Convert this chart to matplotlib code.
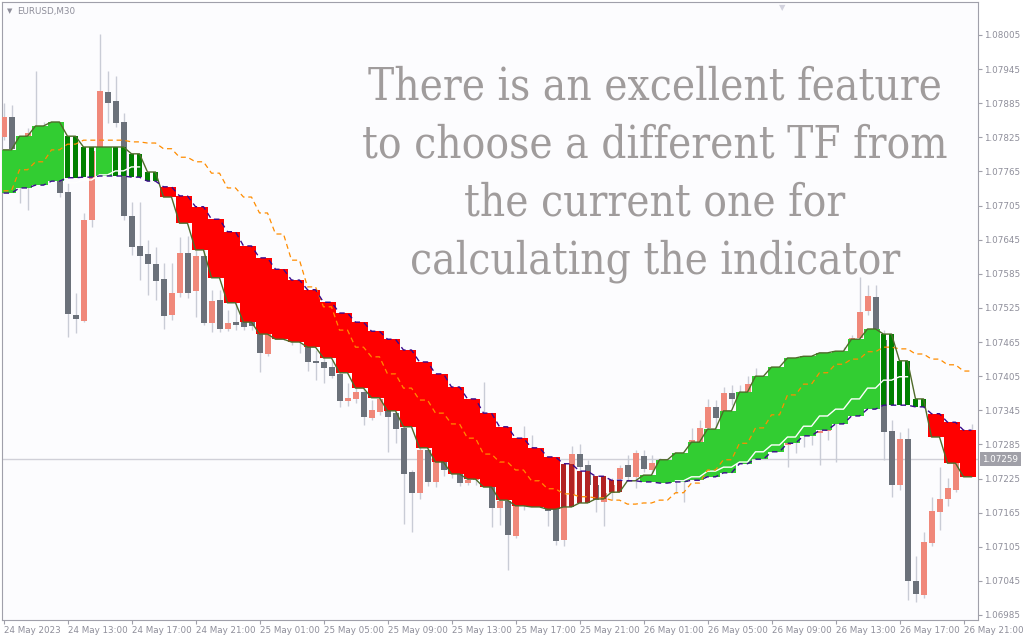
import matplotlib
matplotlib.use("Agg")
import matplotlib.pyplot as plt
import numpy as np

# EURUSD M30 candles, one value per bar
opens = [1.07826, 1.07861, 1.07803, 1.07764, 1.07833, 1.07820, 1.07827, 1.07803, 1.07729, 1.07513,
         1.07502, 1.07680, 1.07803, 1.07905, 1.07889, 1.07852, 1.07687, 1.07634, 1.07620, 1.07602,
         1.07576, 1.07513, 1.07551, 1.07622, 1.07555, 1.07616, 1.07499, 1.07539, 1.07488, 1.07500,
         1.07504, 1.07521, 1.07479, 1.07444, 1.07479, 1.07486, 1.07472, 1.07476, 1.07456, 1.07432,
         1.07430, 1.07421, 1.07409, 1.07361, 1.07365, 1.07377, 1.07331, 1.07342, 1.07344, 1.07340,
         1.07314, 1.07236, 1.07200, 1.07275, 1.07219, 1.07254, 1.07240, 1.07233, 1.07217, 1.07222,
         1.07231, 1.07210, 1.07173, 1.07185, 1.07124, 1.07177, 1.07231, 1.07222, 1.07205, 1.07173,
         1.07117, 1.07196, 1.07268, 1.07249, 1.07214, 1.07184, 1.07200, 1.07224, 1.07249, 1.07228,
         1.07265, 1.07240, 1.07252, 1.07240, 1.07247, 1.07236, 1.07249, 1.07289, 1.07314, 1.07351,
         1.07344, 1.07375, 1.07365, 1.07377, 1.07391, 1.07372, 1.07363, 1.07363, 1.07284, 1.07289,
         1.07328, 1.07346, 1.07305, 1.07309, 1.07337, 1.07354, 1.07398, 1.07472, 1.07520, 1.07544,
         1.07469, 1.07309, 1.07214, 1.07295, 1.07045, 1.07020, 1.07112, 1.07166, 1.07189, 1.07205,
         1.07252, 1.07266]
highs = [1.07885, 1.07882, 1.07820, 1.07841, 1.07942, 1.07852, 1.07848, 1.07810, 1.07745, 1.07551,
         1.07692, 1.07806, 1.08007, 1.07942, 1.07933, 1.07868, 1.07711, 1.07711, 1.07644, 1.07632,
         1.07604, 1.07604, 1.07650, 1.07652, 1.07627, 1.07627, 1.07557, 1.07557, 1.07521, 1.07539,
         1.07521, 1.07539, 1.07504, 1.07495, 1.07513, 1.07504, 1.07495, 1.07495, 1.07469, 1.07451,
         1.07442, 1.07433, 1.07416, 1.07393, 1.07386, 1.07389, 1.07363, 1.07372, 1.07354, 1.07346,
         1.07328, 1.07240, 1.07284, 1.07284, 1.07266, 1.07266, 1.07258, 1.07244, 1.07240, 1.07240,
         1.07395, 1.07222, 1.07205, 1.07196, 1.07187, 1.07317, 1.07302, 1.07240, 1.07222, 1.07187,
         1.07205, 1.07282, 1.07286, 1.07258, 1.07226, 1.07214, 1.07226, 1.07249, 1.07266, 1.07275,
         1.07275, 1.07266, 1.07261, 1.07254, 1.07258, 1.07261, 1.07314, 1.07328, 1.07365, 1.07363,
         1.07386, 1.07389, 1.07389, 1.07405, 1.07419, 1.07389, 1.07389, 1.07381, 1.07310, 1.07363,
         1.07398, 1.07372, 1.07346, 1.07363, 1.07381, 1.07456, 1.07477, 1.07579, 1.07565, 1.07565,
         1.07486, 1.07328, 1.07307, 1.07314, 1.07089, 1.07131, 1.07193, 1.07245, 1.07226, 1.07275,
         1.07293, 1.07321]
lows = [1.07820, 1.07785, 1.07710, 1.07697, 1.07803, 1.07782, 1.07775, 1.07720, 1.07474, 1.07481,
        1.07500, 1.07667, 1.07794, 1.07850, 1.07843, 1.07680, 1.07618, 1.07574, 1.07548, 1.07539,
        1.07488, 1.07504, 1.07544, 1.07543, 1.07509, 1.07495, 1.07483, 1.07483, 1.07484, 1.07486,
        1.07486, 1.07486, 1.07412, 1.07440, 1.07472, 1.07469, 1.07460, 1.07446, 1.07414, 1.07398,
        1.07393, 1.07402, 1.07351, 1.07353, 1.07358, 1.07319, 1.07328, 1.07337, 1.07272, 1.07287,
        1.07145, 1.07131, 1.07189, 1.07212, 1.07210, 1.07229, 1.07226, 1.07212, 1.07214, 1.07214,
        1.07219, 1.07140, 1.07143, 1.07064, 1.07120, 1.07170, 1.07214, 1.07196, 1.07142, 1.07108,
        1.07106, 1.07187, 1.07231, 1.07205, 1.07166, 1.07142, 1.07187, 1.07219, 1.07222, 1.07208,
        1.07236, 1.07235, 1.07231, 1.07226, 1.07200, 1.07184, 1.07240, 1.07282, 1.07310, 1.07314,
        1.07337, 1.07354, 1.07328, 1.07363, 1.07346, 1.07337, 1.07310, 1.07275, 1.07245, 1.07270,
        1.07280, 1.07284, 1.07249, 1.07293, 1.07254, 1.07337, 1.07381, 1.07460, 1.07513, 1.07460,
        1.07258, 1.07193, 1.07205, 1.07011, 1.07008, 1.07015, 1.07106, 1.07134, 1.07177, 1.07201,
        1.07240, 1.07249]
closes = [1.07861, 1.07805, 1.07771, 1.07833, 1.07820, 1.07827, 1.07803, 1.07727, 1.07514, 1.07506,
          1.07680, 1.07801, 1.07907, 1.07885, 1.07850, 1.07687, 1.07632, 1.07616, 1.07602, 1.07572,
          1.07511, 1.07551, 1.07622, 1.07551, 1.07616, 1.07499, 1.07537, 1.07488, 1.07499, 1.07495,
          1.07491, 1.07493, 1.07446, 1.07479, 1.07486, 1.07472, 1.07476, 1.07469, 1.07430, 1.07428,
          1.07419, 1.07405, 1.07361, 1.07367, 1.07377, 1.07333, 1.07346, 1.07365, 1.07333, 1.07312,
          1.07233, 1.07200, 1.07275, 1.07219, 1.07254, 1.07240, 1.07233, 1.07217, 1.07222, 1.07231,
          1.07240, 1.07173, 1.07185, 1.07126, 1.07177, 1.07231, 1.07222, 1.07205, 1.07168, 1.07115,
          1.07196, 1.07268, 1.07245, 1.07214, 1.07187, 1.07200, 1.07214, 1.07244, 1.07228, 1.07270,
          1.07242, 1.07252, 1.07240, 1.07247, 1.07236, 1.07249, 1.07293, 1.07314, 1.07351, 1.07331,
          1.07375, 1.07365, 1.07372, 1.07391, 1.07372, 1.07363, 1.07372, 1.07284, 1.07289, 1.07328,
          1.07346, 1.07319, 1.07309, 1.07337, 1.07354, 1.07398, 1.07472, 1.07518, 1.07546, 1.07469,
          1.07307, 1.07214, 1.07295, 1.07045, 1.07022, 1.07113, 1.07168, 1.07189, 1.07208, 1.07252,
          1.07266, 1.07258]

# indicator from the H1 timeframe: one value per H1 bar (= 2 M30 bars)
line_a = [1.07803, 1.07827, 1.07845, 1.07852, 1.07827, 1.07808, 1.07808, 1.07808, 1.07796, 1.07764,
          1.07720, 1.07674, 1.07627, 1.07578, 1.07534, 1.07500, 1.07479, 1.07470, 1.07465, 1.07456,
          1.07437, 1.07411, 1.07384, 1.07367, 1.07344, 1.07316, 1.07279, 1.07254, 1.07233, 1.07224,
          1.07210, 1.07187, 1.07177, 1.07175, 1.07171, 1.07175, 1.07182, 1.07189, 1.07201, 1.07221,
          1.07231, 1.07258, 1.07270, 1.07289, 1.07312, 1.07344, 1.07377, 1.07405, 1.07421, 1.07437,
          1.07440, 1.07446, 1.07449, 1.07470, 1.07488, 1.07479, 1.07432, 1.07365, 1.07298, 1.07252,
          1.07228]
line_b = [1.07727, 1.07736, 1.07741, 1.07748, 1.07754, 1.07755, 1.07757, 1.07757, 1.07755, 1.07748,
          1.07738, 1.07722, 1.07703, 1.07681, 1.07659, 1.07634, 1.07613, 1.07593, 1.07574, 1.07557,
          1.07535, 1.07516, 1.07500, 1.07484, 1.07470, 1.07451, 1.07430, 1.07409, 1.07386, 1.07365,
          1.07340, 1.07316, 1.07296, 1.07279, 1.07263, 1.07251, 1.07238, 1.07229, 1.07222, 1.07221,
          1.07219, 1.07217, 1.07219, 1.07222, 1.07228, 1.07235, 1.07251, 1.07259, 1.07272, 1.07287,
          1.07300, 1.07310, 1.07321, 1.07335, 1.07347, 1.07354, 1.07354, 1.07351, 1.07339, 1.07324,
          1.07310]
# G up, g up (weak), R down, r down (weak), - none
cloud_state = "GGGGggGgggRRRRRRRRRRRRRRRRRRRRRRRRRrrrr-GGGGGGGGGGGGGGGgggRRR"
orange_line = [1.07731, 1.07768, 1.07782, 1.07803, 1.07813, 1.07820, 1.07820, 1.07820, 1.07817, 1.07815,
               1.07805, 1.07790, 1.07782, 1.07762, 1.07736, 1.07720, 1.07692, 1.07655, 1.07609, 1.07562,
               1.07527, 1.07486, 1.07456, 1.07439, 1.07409, 1.07384, 1.07363, 1.07340, 1.07321, 1.07296,
               1.07268, 1.07254, 1.07240, 1.07221, 1.07207, 1.07198, 1.07193, 1.07191, 1.07187, 1.07180,
               1.07182, 1.07187, 1.07200, 1.07217, 1.07240, 1.07258, 1.07287, 1.07314, 1.07337, 1.07372,
               1.07391, 1.07411, 1.07426, 1.07435, 1.07448, 1.07456, 1.07453, 1.07444, 1.07435, 1.07425,
               1.07414]
nan = np.nan
white_line = [nan, nan, nan, nan, 1.07745, 1.07750, 1.07759, 1.07766, 1.07773, nan,
              nan, nan, nan, nan, nan, nan, nan, nan, nan, nan,
              nan, nan, nan, nan, nan, nan, nan, nan, nan, nan,
              nan, nan, nan, nan, nan, nan, nan, nan, nan, nan,
              nan, nan, 1.07221, 1.07228, 1.07238, 1.07245, 1.07254, 1.07272, 1.07284, 1.07298,
              1.07317, 1.07335, 1.07347, 1.07365, 1.07384, 1.07398, 1.07404, nan, nan, nan,
              nan]

last_price = 1.07259
x_labels = ["24 May 2023", "24 May 13:00", "24 May 17:00", "24 May 21:00", "25 May 01:00",
            "25 May 05:00", "25 May 09:00", "25 May 13:00", "25 May 17:00", "25 May 21:00",
            "26 May 01:00", "26 May 05:00", "26 May 09:00", "26 May 13:00", "26 May 17:00",
            "26 May 21:00"]
y_ticks = [1.06985, 1.07045, 1.07105, 1.07165, 1.07225, 1.07285, 1.07345, 1.07405, 1.07465,
           1.07525, 1.07585, 1.07645, 1.07705, 1.07765, 1.07825, 1.07885, 1.07945, 1.08005]
overlay = ["There is an excellent feature", "to choose a different TF from",
           "the current one for", "calculating the indicator"]

bull_col = "#F0887A"
bear_col = "#6B717A"
wick_col = "#C9CCD6"
cloud_cols = {"G": "#32CD32", "g": "#008000", "R": "#FF0000", "r": "#B22222"}
axis_col = "#A0A0AA"
text_col = "#8E8E9A"

o = np.array(opens)
h = np.array(highs)
l = np.array(lows)
c = np.array(closes)
n = len(o)
x = np.arange(n)

a_bar = np.repeat(line_a, 2)[:n]
b_bar = np.repeat(line_b, 2)[:n]
st_bar = np.repeat(list(cloud_state), 2)[:n]
or_bar = np.repeat(orange_line, 2)[:n]
wh_bar = np.repeat(white_line, 2)[:n]

fig = plt.figure(figsize=(10.24, 6.4), dpi=100, facecolor="white")
ax = fig.add_axes([2 / 1024, 20 / 640, 976 / 1024, 618 / 640])
ax.set_facecolor("#FCFCFE")

ax.axhline(last_price, color="#D0D0D8", lw=1, zorder=1)

# candles
ax.vlines(x, l, h, color=wick_col, lw=1, zorder=2)
up = c >= o
body = np.maximum(np.abs(c - o), 0.000018)
ax.bar(x[up], body[up], bottom=np.minimum(o, c)[up], width=0.75, color=bull_col, lw=0, zorder=3)
ax.bar(x[~up], body[~up], bottom=np.minimum(o, c)[~up], width=0.75, color=bear_col, lw=0, zorder=3)

# cloud: solid blocks drawn bar-wide as steps, weak bars as thin columns
top = np.maximum(a_bar, b_bar)
bot = np.minimum(a_bar, b_bar)
xs = np.repeat(x, 2) + np.tile([-0.5, 0.5], n)
for s, col in cloud_cols.items():
    m = st_bar == s
    if s in "GR":
        ax.fill_between(xs, np.repeat(bot, 2), np.repeat(top, 2), where=np.repeat(m, 2),
                        color=col, lw=0, zorder=4)
    else:
        ax.bar(x[m], (top - bot)[m], bottom=bot[m], width=0.62, color=col, lw=0, zorder=4)

ax.plot(x, wh_bar, color="white", lw=1, zorder=5)
ax.plot(x, or_bar, color="#FF8C00", lw=0.9, ls=(0, (4, 3)), zorder=5)
ax.plot(x, a_bar, color="#4F6B2A", lw=1, zorder=6)
ax.plot(x, b_bar, color="#3A0A8C", lw=1, ls=(0, (4, 3)), zorder=6)

ax.set_xlim(-0.1875, n - 0.1875)
ax.set_ylim(1.069762, 1.080630)

ax.yaxis.tick_right()
ax.set_yticks(y_ticks)
ax.set_yticklabels(["%.5f" % v for v in y_ticks])
ax.set_xticks(np.arange(0, n, 8))
ax.set_xticklabels(x_labels, ha="left")
ax.tick_params(axis="both", direction="out", length=3, width=0.8, color=axis_col,
               labelcolor=text_col, labelsize=6.3, pad=1.5)
for sp in ax.spines.values():
    sp.set_color(axis_col)
    sp.set_linewidth(0.8)

ax.annotate("%.5f" % last_price, xy=(1, last_price), xycoords=("axes fraction", "data"),
            xytext=(3, 0), textcoords="offset points", va="center", ha="left",
            fontsize=6.3, color="white",
            bbox=dict(boxstyle="square,pad=0.3", fc="#A0A0A8", ec="none"))

ax.text(0.005, 0.985, "\u25bc", transform=ax.transAxes, fontsize=5, color=text_col, va="center")
ax.text(0.016, 0.985, "EURUSD,M30", transform=ax.transAxes, fontsize=6.3,
        color=text_col, va="center")
# chart shift marker at the top edge
ax.text(0.799, 0.999, "\u25bc", transform=ax.transAxes, fontsize=6, color="#D2D2DE",
        ha="center", va="top")

for i, line in enumerate(overlay):
    fig.text(655 / 1024, 1 - (100 + 57.7 * i) / 640, line, ha="center", va="baseline",
             fontsize=31.5, color="#A09C9C", family="DejaVu Serif", stretch="condensed",
             zorder=10)

fig.savefig("out.png", dpi=100, facecolor="white")
